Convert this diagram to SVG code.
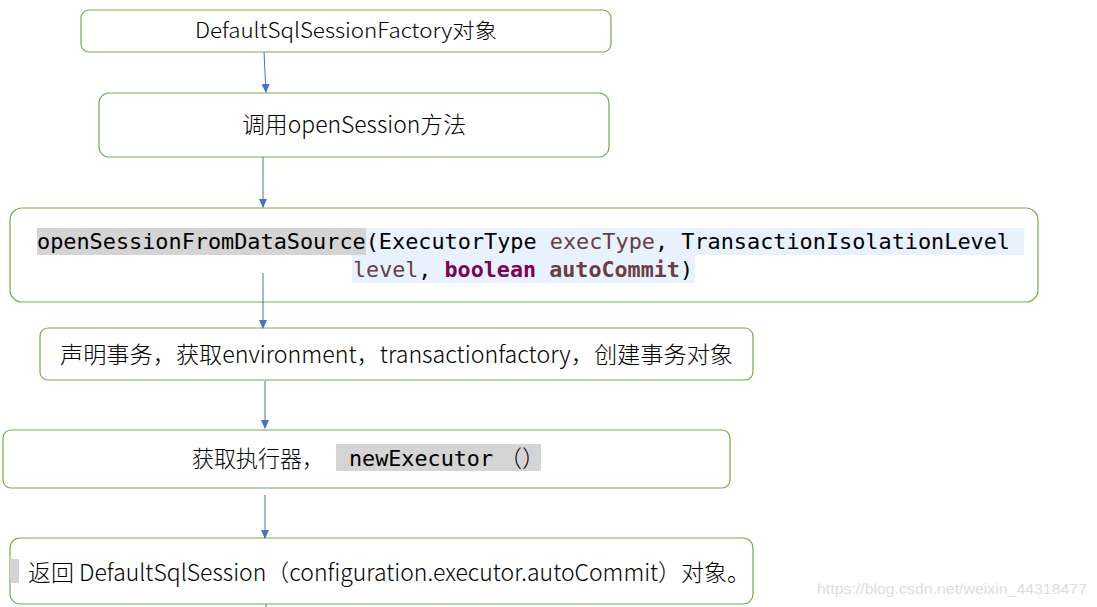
<svg xmlns="http://www.w3.org/2000/svg" width="1097" height="607" viewBox="0 0 1097 607">
<defs>
<marker id="ah" markerWidth="10" markerHeight="10" refX="8" refY="5" orient="auto" markerUnits="userSpaceOnUse">
<path d="M0,1 L9,5 L0,9 Z" fill="#4472c4"/>
</marker>
<style>
.box{fill:#fff;stroke:#70ad47;stroke-width:1.2}
.t{font-family:"Noto Sans CJK SC","Noto Sans",sans-serif;font-weight:300;fill:#000}
.m{font-family:"DejaVu Sans Mono","Liberation Mono",monospace;font-size:21px;fill:#000}
.var{fill:#6a3e3e}
.kw{fill:#7f0055;font-weight:bold}
.conn{stroke:#4472c4;stroke-width:1;fill:none}
</style>
</defs>
<rect width="1097" height="607" fill="#fff"/>
<g id="n1">
<rect class="box" x="81" y="10" width="530" height="42" rx="8"/>
<text class="t" x="195" y="38" font-size="21" textLength="302" lengthAdjust="spacingAndGlyphs">DefaultSqlSessionFactory对象</text>
</g>
<g id="n2">
<rect class="box" x="99" y="93" width="510" height="64" rx="10"/>
<text class="t" x="242" y="133" font-size="23" textLength="224" lengthAdjust="spacingAndGlyphs">调用openSession方法</text>
</g>
<g id="n3">
<rect class="box" x="10" y="208" width="1028" height="94" rx="12"/>
<rect x="37" y="228" width="329" height="27" fill="#d4d4d4"/>
<rect x="366" y="228" width="658" height="27" fill="#e8f2fe"/>
<rect x="352" y="255" width="343" height="28" fill="#e8f2fe"/>
<text class="m" x="37" y="249" textLength="973" lengthAdjust="spacingAndGlyphs">openSessionFromDataSource(ExecutorType <tspan class="var">execType</tspan>, TransactionIsolationLevel</text>
<text class="m" x="353" y="277" textLength="340" lengthAdjust="spacingAndGlyphs"><tspan class="var">level</tspan>, <tspan class="kw">boolean</tspan> <tspan class="var" font-weight="bold">autoCommit</tspan>)</text>
</g>
<g id="n4">
<rect class="box" x="40" y="328" width="713" height="52" rx="8"/>
<text class="t" x="60" y="363" font-size="23" textLength="673" lengthAdjust="spacingAndGlyphs">声明事务，获取environment，transactionfactory，创建事务对象</text>
</g>
<g id="n5">
<rect class="box" x="3" y="430" width="727" height="58" rx="8"/>
<rect x="336" y="444" width="205" height="27" fill="#d4d4d4"/>
<text class="t" x="192" y="467" font-size="23" textLength="132" lengthAdjust="spacingAndGlyphs">获取执行器，</text>
<text class="m" x="349" y="466" textLength="144" lengthAdjust="spacingAndGlyphs">newExecutor</text>
<text class="t" x="499" y="467" font-size="23">（）</text>
</g>
<g id="n6">
<rect class="box" x="10" y="538" width="743" height="66" rx="10"/>
<rect x="10" y="559" width="9" height="24" fill="#d4d4d4"/>
<text class="t" x="28" y="581" font-size="23" textLength="722" lengthAdjust="spacingAndGlyphs">返回 DefaultSqlSession（configuration.executor.autoCommit）对象。</text>
</g>
<g id="connectors">
<line class="conn" x1="264" y1="52" x2="266" y2="92" marker-end="url(#ah)"/>
<line class="conn" x1="263" y1="157" x2="263" y2="207" marker-end="url(#ah)"/>
<line class="conn" x1="263" y1="273" x2="263" y2="328" marker-end="url(#ah)"/>
<line class="conn" x1="265" y1="381" x2="265" y2="428" marker-end="url(#ah)"/>
<line class="conn" x1="265" y1="495" x2="265" y2="538" marker-end="url(#ah)"/>
<line class="conn" x1="266" y1="604" x2="266" y2="607"/>
</g>
<text x="817" y="594" font-family="Liberation Sans, Arial, sans-serif" font-size="15" fill="#dddddd" textLength="270" lengthAdjust="spacingAndGlyphs">https://blog.csdn.net/weixin_44318477</text>
</svg>
